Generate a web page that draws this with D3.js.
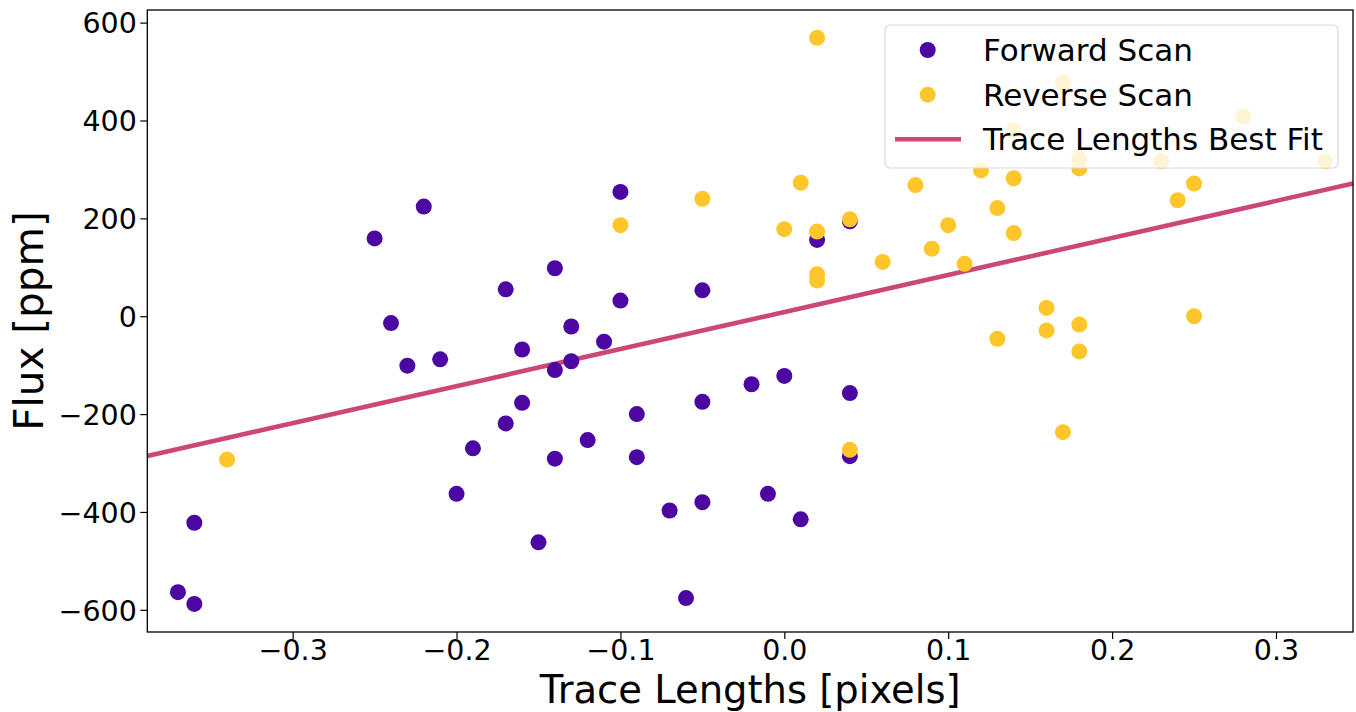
<!DOCTYPE html>
<html>
<head>
<meta charset="utf-8">
<script src="https://cdn.jsdelivr.net/npm/d3@7"></script>
<style>
  html, body { margin: 0; padding: 0; background: #ffffff; }
  svg { display: block; font-family: "DejaVu Sans", sans-serif; }
</style>
</head>
<body>
<svg id="chart" width="1356" height="712"></svg>
<script>
// ---- data ----
const forwardX = [-0.37, -0.36, -0.36, -0.25, -0.24, -0.23, -0.22, -0.21, -0.20, -0.19,
                  -0.17, -0.17, -0.16, -0.16, -0.15, -0.14, -0.14, -0.14, -0.13, -0.13,
                  -0.12, -0.11, -0.10, -0.10, -0.09, -0.09, -0.07, -0.06, -0.05, -0.05,
                  -0.05, -0.02, 0.00, -0.01, 0.01, 0.02, 0.04, 0.04, 0.04];
const forwardY = [-564, -422, -588, 159, -14, -101, 224, -88, -363, -270,
                  55, -219, -68, -177, -462, 98, -110, -291, -21, -92,
                  -253, -52, 254, 32, -200, -288, -397, -576, 53, -175,
                  -380, -139, -122, -363, -415, 156, 194, -157, -286];

const reverseX = [-0.34, -0.10, -0.05, 0.00, 0.01, 0.02, 0.02, 0.02, 0.02, 0.04,
                  0.04, 0.06, 0.08, 0.09, 0.10, 0.11, 0.12, 0.13, 0.13, 0.14,
                  0.14, 0.14, 0.16, 0.16, 0.17, 0.17, 0.18, 0.18, 0.18, 0.18,
                  0.23, 0.24, 0.25, 0.25, 0.28, 0.33];
const reverseY = [-293, 186, 240, 178, 273, 569, 173, 86, 73, 198,
                  -273, 111, 268, 138, 186, 107, 298, 221, -46, 380,
                  282, 170, 17, -29, 477, -237, 322, 302, -17, -72,
                  317, 237, 271, 0, 408, 317];

const fitSlope = 757;      // ppm per pixel
const fitIntercept = 8.6;  // ppm

const xTicks = [-0.3, -0.2, -0.1, 0.0, 0.1, 0.2, 0.3];
const yTicks = [-600, -400, -200, 0, 200, 400, 600];

const legendLabels = ["Forward Scan", "Reverse Scan", "Trace Lengths Best Fit"];
const colForward = "#4c07a2";
const colReverse = "#fec62a";
const colFit = "#cc4778";

// ---- layout ----
const svg = d3.select("#chart");
const plotL = 147.3, plotR = 1353, plotT = 10, plotB = 632;

const x = d3.scaleLinear().domain([-0.3887, 0.3470]).range([plotL, plotR]);
const y = d3.scaleLinear().domain([-645.3, 625.8]).range([plotB, plotT]);

// fit line
const fitData = x.domain().map(v => [v, fitIntercept + fitSlope * v]);
svg.append("path")
  .datum(fitData)
  .attr("d", d3.line().x(d => x(d[0])).y(d => y(d[1])))
  .attr("fill", "none")
  .attr("stroke", colFit)
  .attr("stroke-width", 4.6);

// points
const fwd = forwardX.map((v, i) => [v, forwardY[i]]);
const rev = reverseX.map((v, i) => [v, reverseY[i]]);

svg.append("g").selectAll("circle").data(fwd).join("circle")
  .attr("cx", d => x(d[0])).attr("cy", d => y(d[1])).attr("r", 8)
  .attr("fill", colForward);

svg.append("g").selectAll("circle").data(rev).join("circle")
  .attr("cx", d => x(d[0])).attr("cy", d => y(d[1])).attr("r", 8)
  .attr("fill", colReverse);

// axes
const fontSize = 28.5;
const xAxis = svg.append("g")
  .attr("transform", `translate(0,${plotB})`)
  .call(d3.axisBottom(x).tickValues(xTicks).tickFormat(d3.format(".1f")).tickSize(7).tickPadding(1));
const yAxis = svg.append("g")
  .attr("transform", `translate(${plotL},0)`)
  .call(d3.axisLeft(y).tickValues(yTicks).tickFormat(d3.format("d")).tickSize(7).tickPadding(3.5));

[xAxis, yAxis].forEach(g => {
  g.select(".domain").remove();
  g.selectAll(".tick line").attr("stroke", "#000").attr("stroke-width", 1.2);
  g.selectAll(".tick text")
    .attr("fill", "#000")
    .style("font-family", "'DejaVu Sans', sans-serif")
    .style("font-size", fontSize + "px");
});
yAxis.selectAll(".tick text").attr("dy", "0.36em");

// spines
svg.append("rect")
  .attr("x", plotL).attr("y", plotT)
  .attr("width", plotR - plotL).attr("height", plotB - plotT)
  .attr("fill", "none").attr("stroke", "#000").attr("stroke-width", 1.3);

// axis labels
svg.append("text")
  .attr("x", (plotL + plotR) / 2).attr("y", 702.8)
  .attr("text-anchor", "middle")
  .style("font-size", "38.5px")
  .attr("fill", "#000")
  .text("Trace Lengths [pixels]");

svg.append("text")
  .attr("transform", `translate(43,${(plotT + plotB) / 2}) rotate(-90)`)
  .attr("text-anchor", "middle")
  .style("font-size", "40.5px")
  .attr("fill", "#000")
  .text("Flux [ppm]");

// legend
const lg = svg.append("g");
lg.append("rect")
  .attr("x", 885).attr("y", 25).attr("width", 453).attr("height", 143)
  .attr("rx", 5).attr("ry", 5)
  .attr("fill", "#ffffff").attr("fill-opacity", 0.8)
  .attr("stroke", "#d9d9d9").attr("stroke-width", 1.2);

const rowsY = [50, 94.7, 139.3];
lg.append("circle").attr("cx", 927.7).attr("cy", rowsY[0]).attr("r", 8).attr("fill", colForward);
lg.append("circle").attr("cx", 927.7).attr("cy", rowsY[1]).attr("r", 8).attr("fill", colReverse);
lg.append("line").attr("x1", 895).attr("x2", 961).attr("y1", rowsY[2]).attr("y2", rowsY[2])
  .attr("stroke", colFit).attr("stroke-width", 4.6);

lg.selectAll("text.lbl").data(legendLabels).join("text")
  .attr("class", "lbl")
  .attr("x", 983)
  .attr("y", (d, i) => rowsY[i])
  .attr("dy", "0.36em")
  .style("font-size", "31px")
  .attr("fill", "#000")
  .text(d => d);
</script>
</body>
</html>
